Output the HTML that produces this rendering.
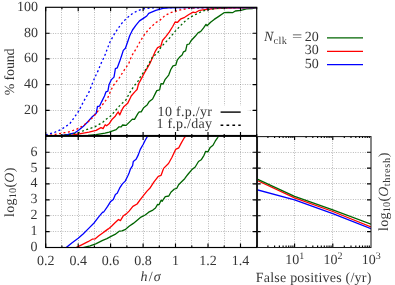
<!DOCTYPE html>
<html><head><meta charset="utf-8"><title>chart</title>
<style>html,body{margin:0;padding:0;background:#fff}body{width:395px;height:285px;overflow:hidden;font-family:"Liberation Serif",serif}</style></head>
<body>
<svg width="395" height="285" viewBox="0 0 395 285" style="display:block">
<rect width="395" height="285" fill="#fff"/>
<defs><clipPath id="c1"><rect x="45.7" y="7.3" width="211.0" height="128.6"/></clipPath>
<clipPath id="c2"><rect x="45.7" y="136.4" width="211.0" height="111.1"/></clipPath>
<clipPath id="c3"><rect x="257.5" y="136.4" width="113.5" height="111.1"/></clipPath></defs>
<g stroke="#8a8a8a" stroke-width="0.65" stroke-dasharray="0.9,1.5" fill="none">
<path d="M61.5 7.3V247.5"/>
<path d="M78.5 7.3V247.5"/>
<path d="M94.5 7.3V247.5"/>
<path d="M110.5 7.3V247.5"/>
<path d="M126.5 7.3V247.5"/>
<path d="M143.5 7.3V247.5"/>
<path d="M159.5 7.3V247.5"/>
<path d="M175.5 7.3V247.5"/>
<path d="M191.5 7.3V247.5"/>
<path d="M208.5 7.3V247.5"/>
<path d="M224.5 7.3V247.5"/>
<path d="M240.5 7.3V247.5"/>
<path d="M45.7 110.5H256.7"/>
<path d="M45.7 84.5H256.7"/>
<path d="M45.7 58.5H256.7"/>
<path d="M45.7 33.5H256.7"/>
<path d="M45.7 231.5H371.0"/>
<path d="M45.7 215.5H371.0"/>
<path d="M45.7 199.5H371.0"/>
<path d="M45.7 183.5H371.0"/>
<path d="M45.7 168.5H371.0"/>
<path d="M45.7 152.5H371.0"/>
<path d="M294.5 135.9V247.5"/>
<path d="M332.5 135.9V247.5"/>
</g>
<rect x="132.3" y="105.8" width="115.5" height="29.4" fill="#fff"/>
<g fill="none" stroke-width="1.30" stroke-linejoin="round" clip-path="url(#c1)">
<polyline stroke="#006400" points="88.0,135.4 96.1,134.6 105.0,133.1 109.2,132.1 113.4,130.6 116.2,129.6 119.0,126.8 121.2,126.8 122.6,125.0 126.1,125.4 128.9,122.6 132.4,119.1 134.5,119.3 138.0,113.4 139.4,111.8 141.2,111.8 143.6,107.8 147.1,105.0 149.0,101.8 152.6,99.0 155.4,93.4 156.8,90.6 159.6,89.9 161.0,83.6 163.1,84.0 165.2,79.3 168.7,75.1 170.8,69.5 173.0,65.8 175.8,65.1 177.2,60.2 180.0,56.7 182.1,55.0 183.5,51.8 185.6,50.8 187.0,44.7 189.2,44.0 191.0,40.8 195.2,36.3 198.0,32.8 200.8,31.4 203.6,27.9 206.0,24.4 207.1,25.8 210.6,22.3 214.2,19.4 218.4,16.6 224.0,12.7 228.3,12.4 232.5,12.7 235.3,11.0 240.9,10.3 246.5,8.9 252.1,8.5 256.3,7.9"/>
<polyline stroke="#ff0000" points="70.0,135.4 79.2,133.9 89.0,132.2 96.1,130.4 101.0,127.6 103.1,128.6 105.2,124.8 106.6,125.8 109.4,123.4 112.2,119.2 115.0,116.6 116.9,113.7 118.3,112.0 119.7,114.9 121.9,109.9 124.0,106.4 127.5,103.6 130.3,98.0 131.2,96.0 135.0,91.6 137.1,89.5 138.5,84.0 141.3,78.9 145.0,71.8 149.8,63.7 152.6,57.4 155.4,51.1 157.6,47.6 160.8,46.2 162.5,40.5 166.0,36.3 169.2,32.1 172.7,26.5 175.1,22.0 177.6,22.3 180.4,19.2 184.7,17.3 188.9,14.5 193.1,12.1 195.2,12.7 198.7,10.7 202.9,9.9 207.1,9.3 215.0,8.5 226.7,8.0 256.7,7.5"/>
<polyline stroke="#0000ff" points="45.7,135.8 60.0,135.6 68.0,134.5 75.0,132.8 79.2,129.7 83.4,126.2 87.6,122.0 91.9,117.1 96.1,113.6 97.5,106.5 99.6,106.1 101.7,101.6 104.5,96.0 106.0,91.8 107.9,91.1 109.0,84.8 111.2,79.9 114.0,77.1 115.4,68.6 117.2,67.9 119.6,61.6 121.5,56.0 123.3,50.4 125.4,48.3 127.6,42.0 129.7,35.7 132.5,30.0 136.0,25.1 139.5,20.9 143.7,18.1 146.8,16.0 148.7,13.3 155.8,10.3 162.9,8.3 168.2,7.8 180.0,7.5 256.7,7.5"/>
<g stroke-dasharray="2.0,2.5" stroke-width="1.3">
<polyline stroke="#006400" points="60.0,135.4 68.0,134.7 77.8,132.8 86.2,129.7 94.7,126.9 103.1,122.0 106.4,119.1 110.6,116.0 114.8,111.3 119.0,106.4 122.6,102.9 126.1,99.7 129.4,93.2 134.3,85.5 137.1,82.9 140.6,76.5 144.1,71.6 146.3,68.6 152.6,56.7 157.6,53.2 161.1,46.9 165.3,42.6 170.2,37.4 175.1,31.4 180.4,25.8 186.1,20.2 191.4,16.6 197.3,13.6 202.9,11.0 207.8,9.6 217.3,8.3 230.0,7.7 256.7,7.5"/>
<polyline stroke="#ff0000" points="45.7,135.7 55.6,134.3 64.5,132.7 68.0,132.1 76.4,129.4 83.4,125.5 90.4,119.9 96.1,113.6 101.7,105.8 108.0,97.4 109.0,94.6 113.3,85.5 118.9,78.5 125.2,68.6 128.7,63.7 131.6,56.0 136.0,49.0 140.2,41.3 145.1,33.6 150.7,27.2 156.3,22.3 160.0,20.2 165.0,15.5 170.6,12.7 175.1,11.3 180.4,9.9 187.5,8.5 200.0,7.8 256.7,7.5"/>
<polyline stroke="#0000ff" points="45.7,134.9 53.9,132.7 61.5,129.3 69.8,123.7 78.0,112.2 83.1,102.4 88.8,92.4 92.9,82.2 95.0,77.1 97.8,71.4 100.6,64.4 104.6,56.0 107.5,48.3 110.0,42.0 114.2,34.3 118.4,27.9 122.6,22.3 127.6,17.4 132.7,13.3 138.0,10.6 143.0,8.9 150.5,7.9 160.0,7.6 256.7,7.5"/>
</g></g>
<path d="M220.6 112.1H240.7" stroke="#000" stroke-width="1.4"/>
<path d="M220.6 125.3H240.7" stroke="#000" stroke-width="1.4" stroke-dasharray="2.7,3.2"/>
<g fill="none" stroke-width="1.30" stroke-linejoin="round" clip-path="url(#c2)">
<polyline stroke="#006400" points="83.1,247.6 90.1,245.9 95.7,243.8 102.7,240.3 106.9,238.6 111.5,236.1 115.0,234.4 119.2,231.2 122.0,230.8 125.6,229.3 129.1,226.3 133.3,223.4 137.5,219.9 141.0,217.1 145.2,215.0 148.7,212.2 152.9,210.1 155.5,208.0 157.6,204.4 159.0,204.8 161.1,200.2 162.2,201.2 165.3,196.7 168.8,196.0 170.9,192.2 174.4,189.0 176.8,188.3 178.6,184.7 182.1,181.2 184.7,178.7 186.3,176.3 188.2,174.0 191.7,169.8 195.2,167.0 198.5,161.5 201.2,159.8 204.0,155.3 205.7,151.3 207.9,151.9 210.2,147.4 213.0,145.2 215.2,141.2 217.8,137.3 219.5,134.0"/>
<polyline stroke="#ff0000" points="76.0,247.6 81.7,244.8 88.0,241.7 92.2,239.2 95.0,238.9 98.5,236.1 104.1,231.9 108.3,228.9 111.5,226.3 115.0,222.7 118.5,219.5 120.4,220.6 123.4,215.7 126.3,213.9 129.1,211.1 132.9,206.4 137.1,204.0 139.9,200.1 142.8,196.3 147.0,191.1 149.8,188.3 154.0,181.9 158.3,176.3 161.1,175.3 162.3,172.0 163.6,168.4 168.5,163.5 172.0,157.2 175.6,149.4 178.8,147.8 181.2,143.1 184.0,138.2 185.1,136.8 186.5,134.0"/>
<polyline stroke="#0000ff" points="66.2,247.6 71.8,243.1 78.2,238.2 83.1,234.0 88.7,228.4 94.3,222.7 98.5,217.1 102.7,212.2 103.7,212.0 107.6,206.4 110.4,201.8 113.3,199.4 115.4,194.5 117.2,193.3 119.6,188.2 122.4,183.9 125.2,181.1 128.0,175.5 129.1,173.0 130.4,169.1 132.6,165.6 133.3,161.4 136.1,159.3 138.2,155.1 140.3,149.4 143.1,144.5 145.2,140.3 147.0,137.1 148.5,134.0"/>
</g>
<g fill="none" stroke-width="1.30" stroke-linejoin="round" clip-path="url(#c3)">
<polyline stroke="#0000ff" points="256.4,189.6 294.6,199.9 332.8,213.6 371.0,228.7"/>
<polyline stroke="#ff0000" points="256.4,180.1 294.6,197.8 332.8,211.5 371.0,226.9"/>
<polyline stroke="#006400" points="256.4,178.7 294.6,196.4 332.8,209.9 371.0,224.2"/>
</g>
<path d="M327 37.9H363" stroke="#006400" stroke-width="1.3"/>
<path d="M327 51.3H363" stroke="#ff0000" stroke-width="1.3"/>
<path d="M327 64.6H363" stroke="#0000ff" stroke-width="1.3"/>
<g stroke="#000" stroke-width="1.15" fill="none">
<path d="M45.7 7.3v4.0M45.7 131.9v8.0M45.7 247.5v-4.0"/>
<path d="M61.9 7.3v2.0M61.9 133.9v4.0M61.9 247.5v-2.0"/>
<path d="M78.2 7.3v4.0M78.2 131.9v8.0M78.2 247.5v-4.0"/>
<path d="M94.4 7.3v2.0M94.4 133.9v4.0M94.4 247.5v-2.0"/>
<path d="M110.6 7.3v4.0M110.6 131.9v8.0M110.6 247.5v-4.0"/>
<path d="M126.9 7.3v2.0M126.9 133.9v4.0M126.9 247.5v-2.0"/>
<path d="M143.1 7.3v4.0M143.1 131.9v8.0M143.1 247.5v-4.0"/>
<path d="M159.3 7.3v2.0M159.3 133.9v4.0M159.3 247.5v-2.0"/>
<path d="M175.5 7.3v4.0M175.5 131.9v8.0M175.5 247.5v-4.0"/>
<path d="M191.8 7.3v2.0M191.8 133.9v4.0M191.8 247.5v-2.0"/>
<path d="M208.0 7.3v4.0M208.0 131.9v8.0M208.0 247.5v-4.0"/>
<path d="M224.2 7.3v2.0M224.2 133.9v4.0M224.2 247.5v-2.0"/>
<path d="M240.5 7.3v4.0M240.5 131.9v8.0M240.5 247.5v-4.0"/>
<path d="M256.7 7.3v2.0M256.7 133.9v4.0M256.7 247.5v-2.0"/>
<path d="M45.7 110.3h4M256.7 110.3h-4"/>
<path d="M45.7 84.6h4M256.7 84.6h-4"/>
<path d="M45.7 58.9h4M256.7 58.9h-4"/>
<path d="M45.7 33.2h4M256.7 33.2h-4"/>
<path d="M45.7 231.6h4M252.7 231.6h8M371.0 231.6h-4"/>
<path d="M45.7 215.7h4M252.7 215.7h8M371.0 215.7h-4"/>
<path d="M45.7 199.8h4M252.7 199.8h8M371.0 199.8h-4"/>
<path d="M45.7 183.9h4M252.7 183.9h8M371.0 183.9h-4"/>
<path d="M45.7 168.1h4M252.7 168.1h8M371.0 168.1h-4"/>
<path d="M45.7 152.2h4M252.7 152.2h8M371.0 152.2h-4"/>
<path d="M267.9 135.9v2.0M267.9 247.5v-2.0"/>
<path d="M274.6 135.9v2.0M274.6 247.5v-2.0"/>
<path d="M279.4 135.9v2.0M279.4 247.5v-2.0"/>
<path d="M283.1 135.9v2.0M283.1 247.5v-2.0"/>
<path d="M286.1 135.9v2.0M286.1 247.5v-2.0"/>
<path d="M288.7 135.9v2.0M288.7 247.5v-2.0"/>
<path d="M290.9 135.9v2.0M290.9 247.5v-2.0"/>
<path d="M292.9 135.9v2.0M292.9 247.5v-2.0"/>
<path d="M294.6 135.9v4.0M294.6 247.5v-4.0"/>
<path d="M306.1 135.9v2.0M306.1 247.5v-2.0"/>
<path d="M312.8 135.9v2.0M312.8 247.5v-2.0"/>
<path d="M317.6 135.9v2.0M317.6 247.5v-2.0"/>
<path d="M321.3 135.9v2.0M321.3 247.5v-2.0"/>
<path d="M324.3 135.9v2.0M324.3 247.5v-2.0"/>
<path d="M326.9 135.9v2.0M326.9 247.5v-2.0"/>
<path d="M329.1 135.9v2.0M329.1 247.5v-2.0"/>
<path d="M331.1 135.9v2.0M331.1 247.5v-2.0"/>
<path d="M332.8 135.9v4.0M332.8 247.5v-4.0"/>
<path d="M344.3 135.9v2.0M344.3 247.5v-2.0"/>
<path d="M351.0 135.9v2.0M351.0 247.5v-2.0"/>
<path d="M355.8 135.9v2.0M355.8 247.5v-2.0"/>
<path d="M359.5 135.9v2.0M359.5 247.5v-2.0"/>
<path d="M362.5 135.9v2.0M362.5 247.5v-2.0"/>
<path d="M365.1 135.9v2.0M365.1 247.5v-2.0"/>
<path d="M367.3 135.9v2.0M367.3 247.5v-2.0"/>
<path d="M369.3 135.9v2.0M369.3 247.5v-2.0"/>
</g>
<g stroke="#000" fill="none" stroke-width="1.15">
<rect x="45.70" y="7.30" width="211.00" height="128.20"/>
<rect x="45.70" y="136.35" width="211.00" height="111.15"/>
</g>
<rect x="257.50" y="136.60" width="113.50" height="110.90" stroke="#1a1a1a" fill="none" stroke-width="1.05"/>
<g font-family="'Liberation Serif', serif" font-size="14" fill="#000" fill-opacity="0.8" text-rendering="geometricPrecision" style="filter:grayscale(1)">
<text x="37.9" y="113.6" text-anchor="end">20</text>
<text x="37.9" y="87.9" text-anchor="end">40</text>
<text x="37.9" y="62.2" text-anchor="end">60</text>
<text x="37.9" y="36.5" text-anchor="end">80</text>
<text x="37.9" y="10.8" text-anchor="end">100</text>
<text x="37.6" y="250.9" text-anchor="end">0</text>
<text x="37.6" y="235.0" text-anchor="end">1</text>
<text x="37.6" y="219.1" text-anchor="end">2</text>
<text x="37.6" y="203.2" text-anchor="end">3</text>
<text x="37.6" y="187.3" text-anchor="end">4</text>
<text x="37.6" y="171.5" text-anchor="end">5</text>
<text x="37.6" y="155.6" text-anchor="end">6</text>
<text x="45.7" y="264.6" text-anchor="middle">0.2</text>
<text x="78.2" y="264.6" text-anchor="middle">0.4</text>
<text x="110.6" y="264.6" text-anchor="middle">0.6</text>
<text x="143.1" y="264.6" text-anchor="middle">0.8</text>
<text x="175.5" y="264.6" text-anchor="middle">1</text>
<text x="208.0" y="264.6" text-anchor="middle">1.2</text>
<text x="240.5" y="264.6" text-anchor="middle">1.4</text>
<text x="294.8" y="264.3" text-anchor="middle">10<tspan font-size="10" dy="-5.2">1</tspan></text>
<text x="333.0" y="264.3" text-anchor="middle">10<tspan font-size="10" dy="-5.2">2</tspan></text>
<text x="371.2" y="264.3" text-anchor="middle">10<tspan font-size="10" dy="-5.2">3</tspan></text>
<text x="151.2" y="281.4" text-anchor="middle" font-style="italic" letter-spacing="1.2">h<tspan font-style="normal">/</tspan>σ</text>
<text x="255.8" y="281.6" textLength="115.5" lengthAdjust="spacing">False positives (/yr)</text>
<text transform="translate(13.6,95.2) rotate(-90)" textLength="46.8" lengthAdjust="spacing">% found</text>
<text transform="translate(13.8,217) rotate(-90)"><tspan letter-spacing="0.25">log</tspan><tspan font-size="10.3" dy="2.6" letter-spacing="0.3">10</tspan><tspan dy="-2.6">(</tspan><tspan font-style="italic" letter-spacing="0.3">O</tspan>)</text>
<text transform="translate(387.8,231) rotate(-90)"><tspan letter-spacing="0.25">log</tspan><tspan font-size="10.3" dy="2.6" letter-spacing="0.3">10</tspan><tspan dy="-2.6">(</tspan><tspan font-style="italic" letter-spacing="0.3">O</tspan><tspan font-size="10.3" dy="2.6" letter-spacing="0.65">thresh</tspan><tspan dy="-2.6">)</tspan></text>
<text x="157.6" y="115.6" textLength="54.4" lengthAdjust="spacing">10 f.p./yr</text>
<text x="156.4" y="128.4" textLength="55.6" lengthAdjust="spacing">1 f.p./day</text>
<text x="264.1" y="41.3"><tspan font-style="italic">N</tspan><tspan font-size="10.3" dy="2.6" letter-spacing="0.5">clk</tspan></text>
<text x="318.8" y="41.3" text-anchor="end">20</text>
<text transform="translate(297.2,41.3) scale(1.3,1)" text-anchor="middle">=</text>
<text x="318.8" y="54.4" text-anchor="end">30</text>
<text x="318.8" y="67.7" text-anchor="end">50</text>
</g>
</svg>
</body></html>
